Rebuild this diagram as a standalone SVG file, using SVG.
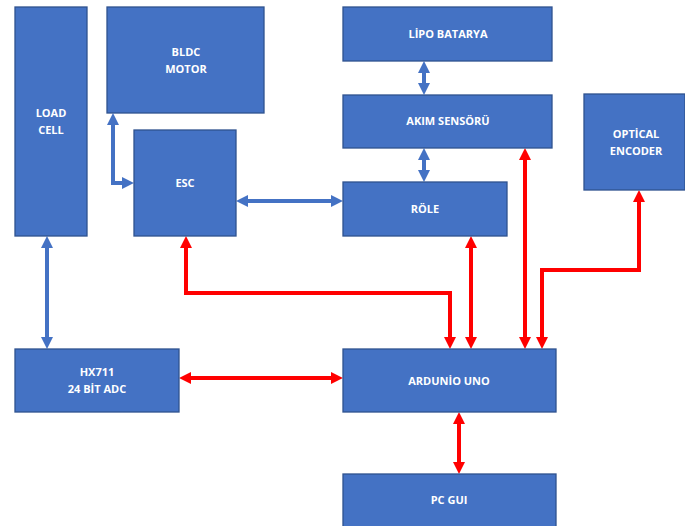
<svg xmlns="http://www.w3.org/2000/svg" width="685" height="526" viewBox="0 0 685 526">
  <style>
    .box { fill: #4472C4; stroke: #2F528F; stroke-width: 1.3; }
    .lbl { fill: #FFFFFF; font-family: "Open Sans", "Liberation Sans", sans-serif; font-weight: bold; font-size: 11px; text-anchor: middle; }
    .blue { fill: none; stroke: #4472C4; stroke-width: 4; }
    .red { fill: none; stroke: #FF0000; stroke-width: 4; }
  </style>
  <defs>
    <marker id="ah-blue" viewBox="0 0 10 10" markerWidth="12" markerHeight="12" markerUnits="userSpaceOnUse" refX="4.2" refY="5" orient="auto-start-reverse">
      <path d="M0,0 L10,5 L0,10 z" fill="#4472C4"/>
    </marker>
    <marker id="ah-red" viewBox="0 0 10 10" markerWidth="12" markerHeight="12" markerUnits="userSpaceOnUse" refX="4.2" refY="5" orient="auto-start-reverse">
      <path d="M0,0 L10,5 L0,10 z" fill="#FF0000"/>
    </marker>
  </defs>

  <rect width="685" height="526" fill="#FFFFFF"/>

  <g id="connectors">
    <!-- power / mechanical links -->
    <path class="blue" d="M47,243 V342" marker-start="url(#ah-blue)" marker-end="url(#ah-blue)"/>
    <path class="blue" d="M113,120 V183 H127" marker-start="url(#ah-blue)" marker-end="url(#ah-blue)"/>
    <path class="blue" d="M243,201 H336" marker-start="url(#ah-blue)" marker-end="url(#ah-blue)"/>
    <path class="blue" d="M424,68 V88" marker-start="url(#ah-blue)" marker-end="url(#ah-blue)"/>
    <path class="blue" d="M424,155 V175" marker-start="url(#ah-blue)" marker-end="url(#ah-blue)"/>
    <!-- signal links to the controller -->
    <path class="red" d="M186,243 V293 H450 V342" marker-start="url(#ah-red)" marker-end="url(#ah-red)"/>
    <path class="red" d="M471,243 V342" marker-start="url(#ah-red)" marker-end="url(#ah-red)"/>
    <path class="red" d="M525,155 V342" marker-start="url(#ah-red)" marker-end="url(#ah-red)"/>
    <path class="red" d="M639,197 V270 H542 V342" marker-start="url(#ah-red)" marker-end="url(#ah-red)"/>
    <path class="red" d="M186,378 H336" marker-start="url(#ah-red)" marker-end="url(#ah-red)"/>
    <path class="red" d="M459,419 V467" marker-start="url(#ah-red)" marker-end="url(#ah-red)"/>
  </g>

  <g id="load-cell">
    <rect class="box" x="15" y="7" width="72" height="229"/>
    <text class="lbl" x="51" y="117">LOAD</text>
    <text class="lbl" x="51" y="134">CELL</text>
  </g>
  <g id="bldc-motor">
    <rect class="box" x="107" y="7" width="157" height="106"/>
    <text class="lbl" x="186" y="56">BLDC</text>
    <text class="lbl" x="186" y="73">MOTOR</text>
  </g>
  <g id="esc">
    <rect class="box" x="134" y="130" width="102" height="106"/>
    <text class="lbl" x="185" y="187">ESC</text>
  </g>
  <g id="lipo">
    <rect class="box" x="343" y="7" width="209" height="54"/>
    <text class="lbl" x="448" y="38">LİPO BATARYA</text>
  </g>
  <g id="akim-sensoru">
    <rect class="box" x="343" y="95" width="209" height="53"/>
    <text class="lbl" x="448" y="125">AKIM SENSÖRÜ</text>
  </g>
  <g id="role">
    <rect class="box" x="343" y="182" width="164" height="54"/>
    <text class="lbl" x="425" y="213">RÖLE</text>
  </g>
  <g id="optical-encoder">
    <rect class="box" x="584" y="94" width="101" height="96"/>
    <text class="lbl" x="636" y="138">OPTİCAL</text>
    <text class="lbl" x="636" y="155">ENCODER</text>
  </g>
  <g id="hx711">
    <rect class="box" x="15" y="349" width="164" height="63"/>
    <text class="lbl" x="97" y="376">HX711</text>
    <text class="lbl" x="97" y="393">24 BİT ADC</text>
  </g>
  <g id="arduino">
    <rect class="box" x="343" y="349" width="213" height="63"/>
    <text class="lbl" x="449" y="385">ARDUNİO UNO</text>
  </g>
  <g id="pc-gui">
    <rect class="box" x="343" y="474" width="213" height="60"/>
    <text class="lbl" x="449" y="504">PC GUI</text>
  </g>
</svg>
